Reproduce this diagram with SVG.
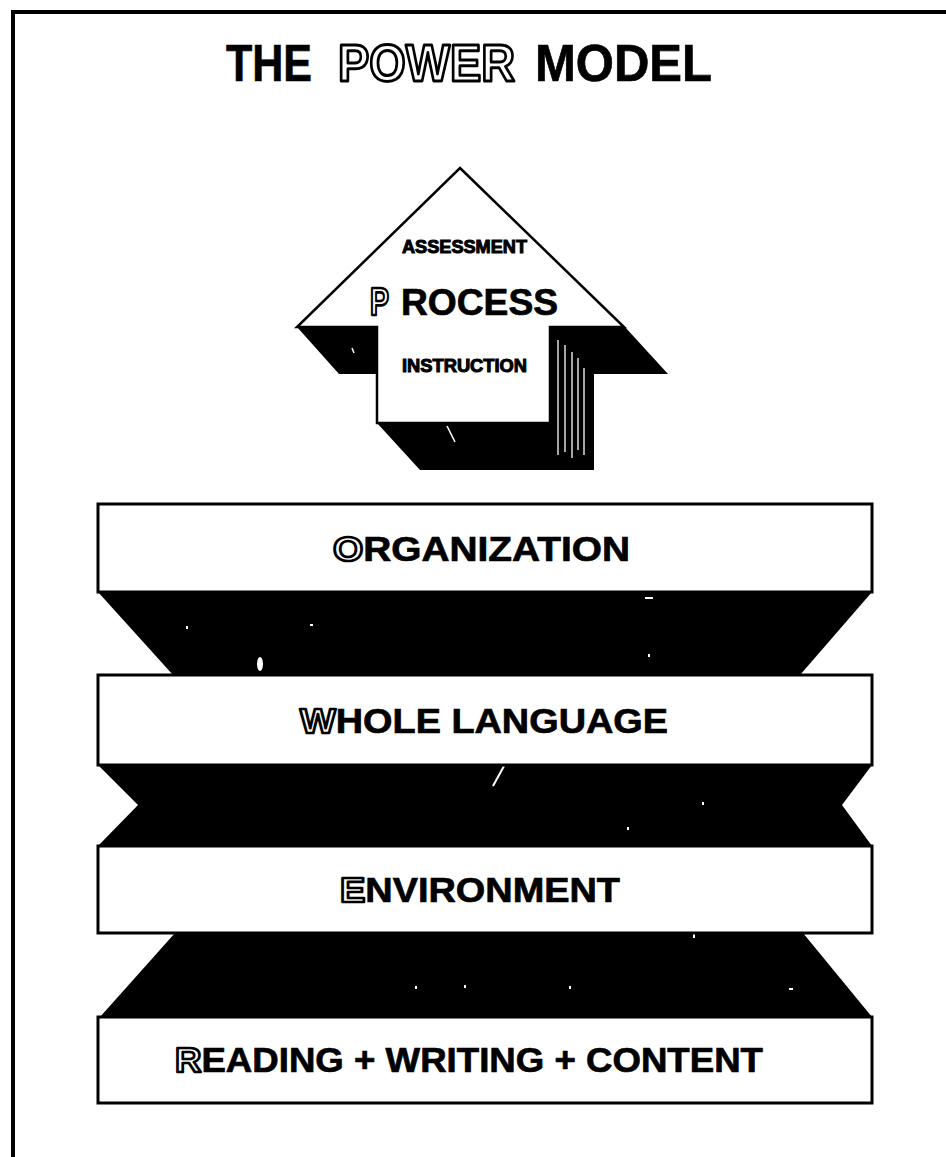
<svg xmlns="http://www.w3.org/2000/svg" width="946" height="1157" viewBox="0 0 946 1157">
<style>
  .frame{fill:none;stroke:#000;stroke-width:4}
  .box{fill:#fff;stroke:#000;stroke-width:3}
  .band{fill:#000}
  .lbl{font-family:"Liberation Sans",Arial,Helvetica,sans-serif;font-weight:bold;fill:#000;stroke:#000;stroke-width:0.7}
  .hollow{fill:#fff;stroke:#000;stroke-width:2.6;stroke-linejoin:round}
  .speck{fill:#fff}
  .streak{stroke:#fff;stroke-width:1.3;fill:none}
</style>
<rect width="946" height="1157" fill="#fff"/>
<g id="frame">
  <path class="frame" d="M13 1157 V12 H946"/>
</g>
<g id="title">
  <text class="lbl" x="226" y="81" font-size="52" textLength="86" lengthAdjust="spacingAndGlyphs">THE</text>
  <text class="lbl hollow" x="338" y="81" font-size="52" textLength="177" lengthAdjust="spacingAndGlyphs" style="stroke-width:3">POWER</text>
  <text class="lbl" x="535" y="81" font-size="52" textLength="177" lengthAdjust="spacingAndGlyphs">MODEL</text>
</g>
<g id="process-arrow">
  <polygon fill="#000" points="297,327 339,374 377,374 377,423 420,470 594,470 594,374 668,374 625,327"/>
  <g class="streak">
    <line x1="558" y1="340" x2="558" y2="455"/>
    <line x1="565" y1="345" x2="565" y2="452"/>
    <line x1="572" y1="352" x2="572" y2="458"/>
    <line x1="578" y1="358" x2="578" y2="450"/>
    <line x1="584" y1="368" x2="584" y2="455"/>
  </g>
  <polygon fill="#fff" stroke="#000" stroke-width="2.5" stroke-linejoin="miter" points="460,168 624,327 550,327 550,423 377,423 377,327 297,327"/>
  <line x1="447" y1="426" x2="455" y2="442" stroke="#fff" stroke-width="1.6"/>
  <line x1="352" y1="348" x2="354" y2="353" stroke="#fff" stroke-width="1.5"/>
  <text class="lbl" x="402" y="253" font-size="18" textLength="125" lengthAdjust="spacingAndGlyphs" style="stroke-width:1">ASSESSMENT</text>
  <text class="lbl hollow" x="370" y="315" font-size="38" textLength="19" lengthAdjust="spacingAndGlyphs">P</text>
  <text class="lbl" x="401" y="315" font-size="37" textLength="157" lengthAdjust="spacingAndGlyphs">ROCESS</text>
  <text class="lbl" x="402" y="372" font-size="18" textLength="125" lengthAdjust="spacingAndGlyphs" style="stroke-width:1">INSTRUCTION</text>
</g>
<g id="connectors">
  <polygon class="band" points="98,592 872,592 800,675 173,675"/>
  <polygon class="band" points="98,765 872,765 842,805 872,846 98,846 138,805"/>
  <polygon class="band" points="175,933 803,933 872,1017 100,1017"/>
  <ellipse class="speck" cx="260" cy="664" rx="3" ry="7"/>
  <rect class="speck" x="645" y="597" width="8" height="2"/>
  <rect class="speck" x="186" y="626" width="2" height="3"/>
  <rect class="speck" x="310" y="624" width="3" height="2"/>
  <rect class="speck" x="648" y="654" width="2" height="3"/>
  <line x1="504" y1="766" x2="493" y2="786" stroke="#fff" stroke-width="2"/>
  <rect class="speck" x="702" y="802" width="2" height="3"/>
  <rect class="speck" x="627" y="827" width="2" height="3"/>
  <rect class="speck" x="415" y="986" width="2" height="3"/>
  <rect class="speck" x="464" y="985" width="2" height="3"/>
  <rect class="speck" x="569" y="986" width="2" height="3"/>
  <rect class="speck" x="789" y="988" width="4" height="2"/>
  <rect class="speck" x="693" y="934" width="2" height="4"/>
</g>
<g id="organization">
  <rect class="box" x="98" y="504" width="774" height="88"/>
  <text class="lbl" x="333" y="561" font-size="35" textLength="297" lengthAdjust="spacingAndGlyphs"><tspan class="hollow">O</tspan>RGANIZATION</text>
</g>
<g id="whole-language">
  <rect class="box" x="98" y="675" width="774" height="90"/>
  <text class="lbl" x="300" y="733" font-size="35" textLength="368" lengthAdjust="spacingAndGlyphs"><tspan class="hollow">W</tspan>HOLE LANGUAGE</text>
</g>
<g id="environment">
  <rect class="box" x="98" y="846" width="774" height="87"/>
  <text class="lbl" x="340" y="902" font-size="35" textLength="280" lengthAdjust="spacingAndGlyphs"><tspan class="hollow">E</tspan>NVIRONMENT</text>
</g>
<g id="reading-writing-content">
  <rect class="box" x="98" y="1017" width="774" height="86"/>
  <text class="lbl" x="175" y="1072" font-size="35" textLength="588" lengthAdjust="spacingAndGlyphs"><tspan class="hollow">R</tspan>EADING + WRITING + CONTENT</text>
</g>
</svg>
